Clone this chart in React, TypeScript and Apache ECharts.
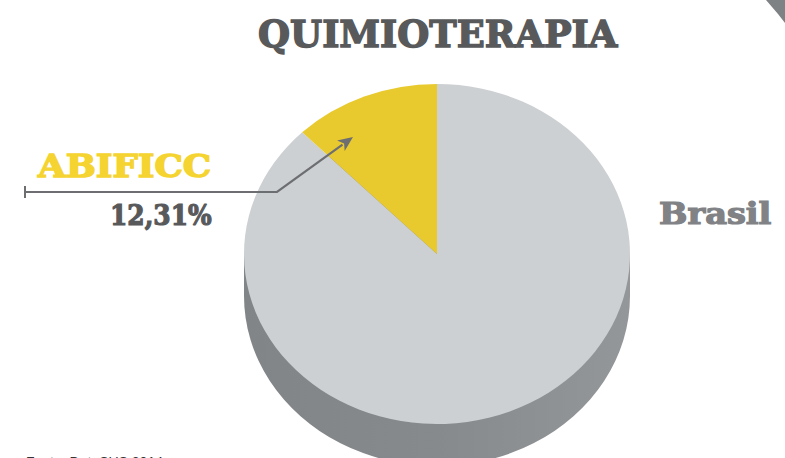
import React, { useEffect, useRef } from "react";
import * as echarts from "echarts";

const categories = ["Brasil", "ABIFICC"];
const values = [87.69, 12.31];
const valueLabels = ["", "12,31%"];
const sliceColors = ["#cdd0d3", "#e8ca2e"];
const titleText = "QUIMIOTERAPIA";
const sourceText = "Fonte: DataSUS 2014";

const CX = 437;
const CY = 254;
const RX = 193;
const RY = 170;
const DEPTH = 42;

export default function App() {
  const ref = useRef<HTMLDivElement>(null);

  useEffect(() => {
    document.body.style.margin = "0";
    if (!ref.current) return;
    const chart = echarts.init(ref.current, undefined, { renderer: "svg" });
    const total = values.reduce((a, b) => a + b, 0);
    const sideFill = {
      type: "linear",
      x: 0,
      y: 0,
      x2: 1,
      y2: 0,
      colorStops: [
        { offset: 0, color: "#828587" },
        { offset: 0.5, color: "#868a8c" },
        { offset: 1, color: "#94979a" },
      ],
    };

    const renderItem = (params: any, api: any) => {
      const i = params.dataIndex;
      let before = 0;
      for (let k = 0; k < i; k++) before += values[k];
      const v = api.value(0);
      const start = -Math.PI / 2 + (2 * Math.PI * before) / total;
      const end = start + (2 * Math.PI * v) / total;
      const top = {
        type: "group",
        x: CX,
        y: CY,
        scaleY: RY / RX,
        children: [
          {
            type: "sector",
            shape: { cx: 0, cy: 0, r: RX, r0: 0, startAngle: start, endAngle: end, clockwise: true },
            style: { fill: sliceColors[i], lineWidth: 0 },
            z2: 10,
          },
        ],
      };
      if (i === 0) {
        return {
          type: "group",
          children: [
            {
              type: "group",
              x: CX,
              y: CY + DEPTH,
              scaleY: RY / RX,
              children: [
                { type: "circle", shape: { cx: 0, cy: 0, r: RX }, style: { fill: sideFill }, z2: 1 },
              ],
            },
            {
              type: "rect",
              shape: { x: CX - RX, y: CY, width: 2 * RX, height: DEPTH },
              style: { fill: sideFill },
              z2: 1,
            },
            top,
          ],
        };
      }
      return top;
    };

    const arrowColor = "#6d6e71";
    const tip = [353, 137];
    const elbow = [277, 192];
    const dx = tip[0] - elbow[0];
    const dy = tip[1] - elbow[1];
    const len = Math.sqrt(dx * dx + dy * dy);
    const ux = dx / len;
    const uy = dy / len;
    const nx = -uy;
    const ny = ux;
    const hl = 15;
    const hw = 6.5;
    const bx = tip[0] - hl * ux;
    const by = tip[1] - hl * uy;

    chart.setOption({
      animation: false,
      backgroundColor: "#ffffff",
      series: [
        {
          type: "custom",
          coordinateSystem: "none",
          renderItem,
          data: categories.map((c, i) => ({ name: c, value: [values[i]] })),
          silent: true,
          z: 2,
        },
      ],
      graphic: [
        {
          type: "polygon",
          z: 100,
          shape: { points: [[766, 0], [772, 7], [778, 14], [785, 23], [785, 0]] },
          style: { fill: "#7f8285" },
        },
        {
          type: "text",
          z: 100,
          x: 258,
          y: 34,
          scaleX: 0.995,
          style: {
            text: titleText,
            font: "bold 37px 'DejaVu Serif'",
            fill: "#58595b",
            stroke: "#58595b",
            lineWidth: 1.4,
            textAlign: "left",
            textVerticalAlign: "middle",
          },
        },
        {
          type: "text",
          z: 100,
          x: 38,
          y: 166,
          scaleX: 1.15,
          style: {
            text: categories[1],
            font: "bold 31px 'DejaVu Serif'",
            fill: "#f5d431",
            stroke: "#f5d431",
            lineWidth: 1.4,
            textAlign: "left",
            textVerticalAlign: "middle",
          },
        },
        {
          type: "text",
          z: 100,
          x: 110,
          y: 215,
          scaleX: 0.89,
          style: {
            text: valueLabels[1],
            font: "bold 28px 'DejaVu Serif'",
            fill: "#58595b",
            stroke: "#58595b",
            lineWidth: 1.2,
            textAlign: "left",
            textVerticalAlign: "middle",
          },
        },
        {
          type: "text",
          z: 100,
          x: 659,
          y: 214,
          scaleX: 1.16,
          style: {
            text: categories[0],
            font: "bold 29px 'DejaVu Serif'",
            fill: "#808285",
            stroke: "#808285",
            lineWidth: 1.2,
            textAlign: "left",
            textVerticalAlign: "middle",
          },
        },
        {
          type: "polyline",
          z: 100,
          shape: { points: [[25, 192], [elbow[0], elbow[1]], [bx + 2 * ux, by + 2 * uy]] },
          style: { stroke: arrowColor, lineWidth: 2.2, fill: null },
        },
        {
          type: "line",
          z: 100,
          shape: { x1: 25, y1: 186, x2: 25, y2: 198 },
          style: { stroke: arrowColor, lineWidth: 2 },
        },
        {
          type: "polygon",
          z: 100,
          shape: {
            points: [
              [tip[0], tip[1]],
              [bx + hw * nx, by + hw * ny],
              [bx + 4 * ux, by + 4 * uy],
              [bx - hw * nx, by - hw * ny],
            ],
          },
          style: { fill: arrowColor },
        },
        {
          type: "text",
          z: 100,
          x: 26,
          y: 455,
          style: {
            text: sourceText,
            font: "14px 'Liberation Sans'",
            fill: "#333333",
            textAlign: "left",
            textVerticalAlign: "top",
          },
        },
      ],
    });
    return () => chart.dispose();
  }, []);

  return <div ref={ref} style={{ width: 785, height: 458 }} />;
}
